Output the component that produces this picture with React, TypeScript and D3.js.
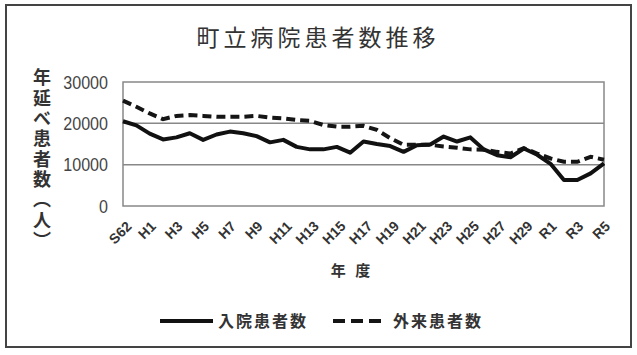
import React from 'react';
import * as d3 from 'd3';

const categories = ['S62','S63','H1','H2','H3','H4','H5','H6','H7','H8','H9','H10','H11','H12','H13','H14','H15','H16','H17','H18','H19','H20','H21','H22','H23','H24','H25','H26','H27','H28','H29','H30','R1','R2','R3','R4','R5'];
const inpatient = [20500,19500,17500,16100,16600,17600,16000,17300,18000,17600,16900,15400,16000,14300,13700,13700,14300,12900,15600,15000,14500,13100,14700,14900,16800,15600,16600,13700,12300,11800,13900,12400,10200,6300,6300,7900,10300];
const outpatient = [25500,24000,22400,21000,21800,22000,21800,21600,21600,21600,21800,21400,21200,20800,20600,19600,19200,19200,19400,18400,16400,14800,14800,14800,14400,14100,13700,13600,13100,12700,14000,12700,11500,10700,10700,11900,11200];
const yTicks = [0, 10000, 20000, 30000];
const gridTicks = [10000, 20000];
const title = '町立病院患者数推移';
const yTitle = '年延べ患者数（人）';
const xTitle = '年 度';
const seriesNames = ['入院患者数', '外来患者数'];

export default function App() {
  const W = 637, H = 355;
  const left = 123, right = 604, top = 82, bottom = 206;
  const x = d3.scalePoint<string>().domain(categories).range([left, right]);
  const y = d3.scaleLinear().domain([0, 30000]).range([bottom, top]);
  const line = d3.line<number>().x((_, i) => x(categories[i]) as number).y(d => y(d));
  const cjk = '"Noto Sans CJK JP", "Noto Sans CJK SC", sans-serif';
  const latin = '"Liberation Sans", Arial, sans-serif';
  const shown = categories.filter((_, i) => i % 2 === 0);
  return (
    <svg width={W} height={H} style={{ position: 'absolute', left: 0, top: 0, background: '#fff' }}>
      <rect x={0} y={0} width={W} height={H} fill="#fff" />
      <rect x={6} y={5} width={625} height={342} fill="#fff" stroke="#444" strokeWidth={2} />
      <text x={318} y={46} textAnchor="middle" fontFamily={cjk} fontSize={23} letterSpacing={4} fill="#333">{title}</text>
      {/* plot area */}
      <rect x={left} y={top} width={right - left} height={bottom - top} fill="none" stroke="#888" strokeWidth={1.5} />
      {gridTicks.map(t => (
        <line key={t} x1={left} x2={right} y1={y(t)} y2={y(t)} stroke="#888" strokeWidth={1.5} />
      ))}
      {yTicks.map(t => (
        <text key={t} transform={`translate(108 ${y(t) + 6.5}) scale(0.92 1)`} textAnchor="end" fontFamily={latin} fontSize={17.5} fill="#444">{t}</text>
      ))}
      <text x={42} y={160} textAnchor="middle" style={{ writingMode: 'vertical-rl' }} fontFamily={cjk} fontSize={18} fontWeight="bold" letterSpacing={2.3} fill="#333">{yTitle}</text>
      {shown.map(c => {
        const cx = (x(c) as number) - 2;
        const cy = 226 + c.length * 2.5;
        return (
          <text key={c} x={cx} y={cy} transform={`rotate(-45 ${cx} ${cy})`} textAnchor="middle" dominantBaseline="middle" fontFamily={latin} fontSize={14} fontWeight="bold" fill="#333">{c}</text>
        );
      })}
      <text x={352} y={276} textAnchor="middle" fontFamily={cjk} fontSize={15} fontWeight="bold" letterSpacing={3} fill="#333">{xTitle}</text>
      <path d={line(outpatient) || ''} fill="none" stroke="#151515" strokeWidth={4} strokeDasharray="9 5" />
      <path d={line(inpatient) || ''} fill="none" stroke="#111" strokeWidth={4} strokeLinejoin="round" />
      {/* legend */}
      <line x1={160} x2={213} y1={321} y2={321} stroke="#111" strokeWidth={4} />
      <text x={218} y={327} fontFamily={cjk} fontSize={16} fontWeight="bold" letterSpacing={2} fill="#333">{seriesNames[0]}</text>
      <line x1={333} x2={383} y1={321} y2={321} stroke="#151515" strokeWidth={4} strokeDasharray="12 6" />
      <text x={393} y={327} fontFamily={cjk} fontSize={16} fontWeight="bold" letterSpacing={2} fill="#333">{seriesNames[1]}</text>
    </svg>
  );
}
